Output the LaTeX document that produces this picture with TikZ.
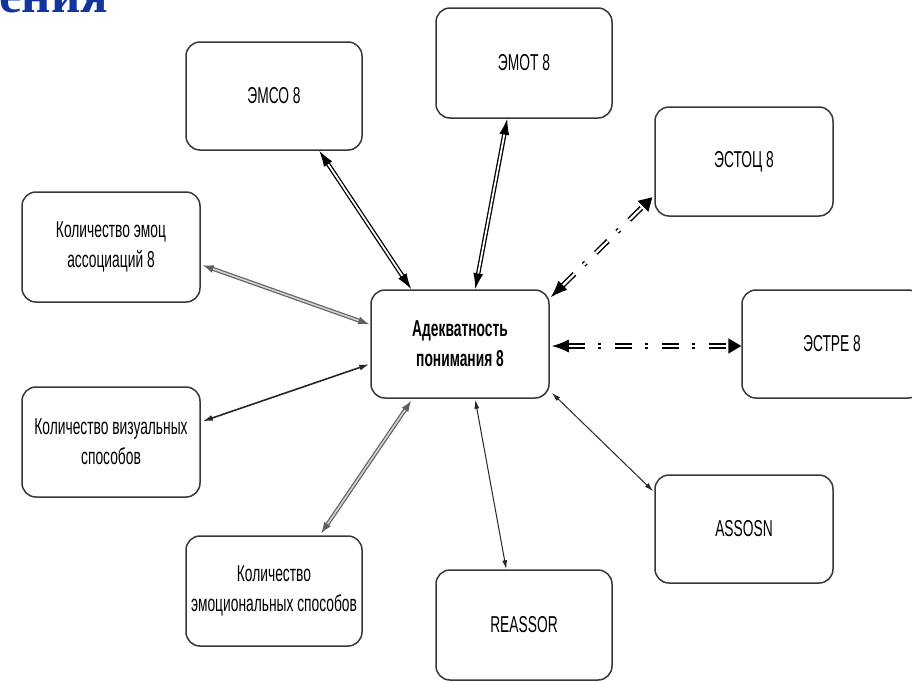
\documentclass[tikz,border=0pt]{standalone}
\usepackage{fontspec}
\setmainfont{Liberation Sans}[FakeStretch=0.6]
\newfontfamily\titlefont{Liberation Serif}
\usetikzlibrary{arrows.meta,calc}
\definecolor{titleblue}{RGB}{18,52,156}
\definecolor{boxline}{RGB}{55,55,55}
\begin{document}
\begin{tikzpicture}[x=1pt,y=-1pt,
  box/.style={draw=boxline, line width=1.5pt, rounded corners=14pt, fill=white,
    align=center, inner sep=0pt, font=\fontsize{23}{30}\selectfont},
  dbl/.style={draw=black, line width=1.3pt, double=white, double distance=1.8pt,
    {Latex[length=16pt,width=10pt]}-{Latex[length=16pt,width=10pt]}},
  dblgray/.style={draw=gray!75!black, line width=1.2pt, double=gray!35, double distance=1.6pt,
    {Latex[length=11pt,width=8pt]}-{Latex[length=11pt,width=8pt]}},
  dashdbl/.style={draw=black, line width=1.5pt, double=white, double distance=2.2pt,
    dash pattern=on 17pt off 13pt on 3pt off 14pt,
    {Latex[length=17pt,width=13pt]}-{Triangle[length=13pt,width=15pt]}},
  thin/.style={draw=black!85, line width=1pt,
    {Latex[length=9pt,width=5pt]}-{Latex[length=9pt,width=5pt]}},
  medium/.style={draw=black!85, line width=1.6pt,
    {Latex[length=10pt,width=6pt]}-{Latex[length=10pt,width=6pt]}}
]
\useasboundingbox (0,0) rectangle (912,683);
\node[anchor=base west, inner sep=0pt, text=titleblue,
  font=\titlefont\bfseries\fontsize{51}{51}\selectfont] (title) at (-1,12) {ения};

\node[box, minimum width=176pt, minimum height=108pt] (emso) at (274,96) {ЭМСО 8};
\node[box, minimum width=176pt, minimum height=110pt] (emot) at (524,63) {ЭМОТ 8};
\node[box, minimum width=178pt, minimum height=109pt] (estoc) at (744,161.5) {ЭСТОЦ 8};
\node[box, minimum width=178pt, minimum height=110pt] (kea) at (111,247) {Количество эмоц\\ассоциаций 8};
\node[box, minimum width=178pt, minimum height=108pt, font=\fontsize{23}{30}\selectfont\bfseries] (adek) at (460,344) {Адекватность\\понимания 8};
\node[box, minimum width=180pt, minimum height=108pt] (estre) at (832,344) {ЭСТРЕ 8};
\node[box, minimum width=178pt, minimum height=110pt] (kvs) at (111,442) {Количество визуальных\\способов};
\node[box, minimum width=178pt, minimum height=108pt] (assosn) at (744,529) {ASSOSN};
\node[box, minimum width=176pt, minimum height=110pt] (kems) at (274,591) {Количество\\эмоциональных способов};
\node[box, minimum width=176pt, minimum height=110pt] (reassor) at (524,625) {REASSOR};

\draw[dbl] ($(emso.south west)+(134,0)$) -- ($(adek.north west)+(41,0)$);
\draw[dbl] ($(emot.south west)+(72,0)$) -- ($(adek.north west)+(105,0)$);
\draw[dashdbl] ($(adek.north east)+(1,8)$) -- ($(estoc.north west)+(-2,91)$);
\draw[dashdbl] ($(adek.east)+(2,2)$) -- ($(estre.west)+(0,2)$);
\draw[dblgray] ($(kea.north east)+(2,74)$) -- ($(adek.north west)+(-1,35)$);
\draw[medium] ($(kvs.north east)+(2,35)$) -- ($(adek.north west)+(-1,75)$);
\draw[dblgray] ($(kems.north west)+(136,-2)$) -- ($(adek.south west)+(41,2)$);
\draw[thin] ($(adek.south west)+(105,1)$) -- ($(reassor.north west)+(71,0)$);
\draw[thin] ($(adek.south east)+(2,-6)$) -- ($(assosn.north west)+(-1,17)$);
\end{tikzpicture}
\end{document}
